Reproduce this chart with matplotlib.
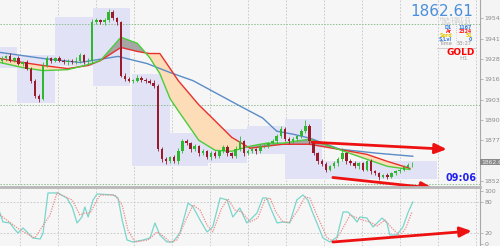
import numpy as np
import matplotlib.pyplot as plt

# H1 candles (close prices), open = previous close
first_open = 1927.5
closes = [1929.1, 1930.4, 1927.8, 1929.1, 1925.9, 1926.6, 1922.8, 1915.2, 1905.7, 1903.9,
          1924.7, 1929.1, 1927.8, 1929.1, 1927.8, 1926.6, 1927.8, 1926.6, 1927.8, 1931.0,
          1926.6, 1927.8, 1951.8, 1953.1, 1951.8, 1953.1, 1958.1, 1954.35, 1951.8, 1918.4,
          1916.5, 1915.2, 1915.2, 1917.1, 1915.9, 1915.2, 1914.0, 1912.1, 1872.3, 1866.0,
          1864.7, 1867.2, 1864.7, 1871.0, 1877.3, 1876.1, 1872.3, 1874.2, 1869.8, 1871.0,
          1867.2, 1869.8, 1867.9, 1871.0, 1873.5, 1869.8, 1867.9, 1872.3, 1877.3, 1869.8,
          1871.0, 1872.3, 1871.0, 1874.2, 1874.2, 1876.1, 1877.3, 1880.5, 1884.9, 1878.6,
          1877.3, 1878.6, 1880.5, 1883.6, 1886.8, 1877.3, 1869.8, 1864.7, 1862.8, 1859.6,
          1861.6, 1863.4, 1866.0, 1869.8, 1864.7, 1863.4, 1861.6, 1863.4, 1859.6, 1864.7,
          1858.4, 1857.1, 1855.2, 1855.9, 1855.2, 1857.1, 1858.4, 1859.6, 1860.9, 1862.2,
          1862.61]
wick_up = [1.5, 1.0, 2.0, 1.2, 1.5, 1.0, 1.5, 1.0, 1.2, 1.0,
           2.0, 1.5, 1.0, 1.2, 1.5, 1.0, 1.2, 1.0, 2.5, 1.5,
           1.0, 1.5, 2.0, 1.5, 1.0, 1.2, 2.0, 1.5, 1.0, 1.0,
           1.5, 1.2, 1.0, 1.5, 1.0, 1.2, 1.0, 1.5, 1.0, 1.5,
           1.2, 1.0, 1.5, 2.0, 1.2, 1.5, 1.0, 1.2, 1.0, 1.5,
           1.0, 1.2, 1.5, 1.0, 1.5, 1.2, 1.0, 2.0, 3.0, 1.0,
           1.2, 1.5, 1.0, 1.2, 1.5, 1.0, 1.5, 1.2, 2.0, 1.0,
           1.2, 1.5, 1.0, 1.5, 4.0, 1.2, 1.0, 1.0, 1.2, 1.5,
           1.0, 1.5, 1.2, 3.0, 1.0, 1.2, 1.5, 1.0, 1.2, 1.0,
           1.5, 1.0, 1.2, 1.0, 1.5, 1.0, 1.2, 1.0, 1.5, 1.2,
           2.0]
wick_dn = [1.2, 1.5, 1.0, 1.2, 1.0, 1.5, 1.0, 1.5, 1.2, 2.0,
           1.0, 1.2, 1.5, 1.0, 1.2, 1.0, 1.5, 1.2, 1.0, 1.5,
           1.2, 1.0, 1.5, 1.0, 1.2, 1.5, 1.0, 1.2, 1.5, 1.0,
           1.5, 1.0, 1.2, 1.0, 1.5, 1.2, 1.0, 1.5, 1.2, 2.0,
           1.5, 1.2, 1.0, 1.5, 1.0, 1.2, 1.5, 1.0, 1.5, 1.2,
           1.0, 1.5, 1.2, 1.0, 1.2, 1.5, 1.0, 1.2, 1.0, 1.5,
           1.2, 1.0, 1.5, 1.2, 1.0, 1.2, 1.0, 1.5, 1.0, 1.2,
           1.5, 1.0, 1.2, 1.0, 1.2, 1.5, 1.2, 1.5, 1.0, 1.5,
           1.2, 1.0, 1.5, 1.2, 1.5, 1.0, 1.2, 1.5, 1.0, 1.2,
           1.5, 1.2, 2.0, 1.0, 1.5, 1.2, 1.0, 1.2, 1.0, 1.2,
           1.0]

# moving averages (read at bar positions)
ma_x = [-0.5, 5, 10, 16, 21, 24, 29, 33, 36, 38.5, 41, 43, 48, 52, 56, 60.5, 64.5, 68.5, 75, 82, 89, 94, 99.5]
ma_red = [1929.1, 1926.6, 1924.7, 1922.8, 1924.7, 1927.8, 1936.0, 1933.5, 1932.2, 1932.2, 1922.8, 1915.2,
          1900.1, 1890.0, 1879.8, 1872.9, 1874.2, 1875.4, 1875.4, 1872.3, 1869.1, 1864.7, 1860.3]
ma_green = [1926.6, 1923.4, 1921.5, 1922.1, 1925.3, 1927.8, 1942.4, 1938.6, 1929.7, 1919.6, 1903.9, 1896.3,
            1877.9, 1871.6, 1871.0, 1874.2, 1876.1, 1876.1, 1878.6, 1872.3, 1866.0, 1861.6, 1859.6]
blue_x = [-0.5, 10, 19, 28.3, 35.4, 41, 46.6, 58, 63.6, 67, 71, 75.1, 82.4, 91.5, 100.2]
ma_blue = [1932.9, 1929.1, 1926.6, 1930.4, 1925.9, 1920.3, 1915.2, 1899.4, 1891.8, 1883.6, 1881.7,
           1879.2, 1872.3, 1869.8, 1867.9]

# session boxes
box_x0 = [-0.5, 3.6, 12.9, 22.2, 31.7, 41.0, 50.2, 59.7, 69.0, 78.0]
box_x1 = [3.6, 12.9, 22.2, 31.2, 41.0, 50.2, 59.7, 69.0, 78.0, 106.1]
box_hi = [1936.0, 1931.0, 1955.0, 1960.7, 1919.6, 1882.4, 1884.9, 1886.8, 1891.2, 1864.7]
box_lo = [1923.4, 1901.3, 1924.7, 1912.1, 1861.6, 1861.6, 1863.4, 1869.1, 1853.4, 1853.4]

levels = [1950.56, 1900.06, 1850.4]
price_ticks = [1954.35, 1941.60, 1928.85, 1916.10, 1903.35, 1890.60, 1877.85, 1865.10, 1852.35]

# stochastic
k_x = [-0.5, 0.2, 1.9, 3.2, 3.9, 5.1, 6.1, 7.5, 9.3, 10, 11.2, 12.4, 13.6, 15.8, 17.1, 18.3, 19.5, 20.2,
       21, 22.2, 23.2, 27.1, 28.3, 29.3, 30.5, 31.9, 34.4, 36.1, 37.3, 38.5, 40.2, 41.7, 43.4, 45.4, 46.6,
       48.3, 50, 51.4, 53.2, 54.9, 56.3, 58, 59.7, 60.5, 62.2, 63.6, 64.6, 65.4, 67.1, 68.5, 70.2, 71.9,
       73.4, 74.6, 75.8, 78.3, 80, 81.7, 83.2, 84.4, 85.6, 86.6, 87.3, 89, 90.5, 91.5, 92.7, 93.9, 94.6,
       96.3, 97.8, 99, 100.2]
k_val = [58.6, 41.6, 39.7, 26.4, 20.7, 30.2, 22.6, 11.2, 9.3, 20.7, 96.6, 96.6, 96.6, 87.1, 70.0, 39.7,
         51.0, 70.0, 51.0, 83.3, 94.7, 92.8, 87.1, 45.4, 7.4, 3.6, 7.4, 11.2, 39.7, 16.9, 3.6, 3.6, 20.7,
         77.6, 70.0, 45.4, 22.6, 32.1, 87.1, 83.3, 51.0, 68.1, 39.7, 45.4, 58.6, 87.1, 87.1, 70.0, 39.7,
         41.6, 39.7, 83.3, 92.8, 83.3, 58.6, 11.2, 3.6, 13.0, 60.5, 60.5, 51.0, 41.6, 51.0, 49.1, 32.1,
         39.7, 49.1, 39.7, 16.9, 16.9, 32.1, 58.6, 79.5]
d_x = [-0.5, 4.4, 8, 11.7, 13.4, 17.1, 19, 20.2, 21.5, 23.2, 23.9, 27.5, 29.3, 30.7, 32.4, 35.6, 37.8,
       39.3, 41, 42.7, 44.6, 46.6, 48.3, 50, 51.4, 53.6, 55.1, 56.8, 58.5, 60.5, 62.4, 64.1, 65.4, 66.8,
       68.5, 70.2, 72.2, 73.9, 75.1, 76.8, 79.3, 81.2, 82.9, 84.9, 86.6, 87.8, 89.7, 91.5, 93.4, 95.1,
       97.1, 98.5, 100]
d_val = [54.8, 26.4, 11.2, 54.8, 96.6, 83.3, 54.8, 58.6, 58.6, 83.3, 92.8, 92.8, 73.8, 26.4, 3.6, 7.4,
         22.6, 15.0, 3.6, 7.4, 41.6, 73.8, 64.3, 35.9, 22.6, 68.1, 85.2, 64.3, 60.5, 41.6, 49.1, 83.3,
         87.1, 60.5, 41.6, 41.6, 64.3, 89.0, 87.1, 54.8, 11.2, 3.6, 26.4, 54.8, 49.1, 45.4, 41.6, 34.0,
         45.4, 30.2, 15.0, 30.2, 60.5]

W, H = 500, 246
fig = plt.figure(figsize=(5, 2.46), dpi=100)
fig.patch.set_facecolor("#f4f4f4")


def px(x, y):
    return x / W, 1 - y / H


ax = fig.add_axes([0, 1 - 185 / H, 480 / W, 185 / H])
sub = fig.add_axes([0, 0, 480 / W, 58 / H])
xlim = (-0.5, 116.6)
grid_x = np.arange(4.4, 117, 9.27)

for a in (ax, sub):
    a.set_facecolor("#f6f6f6")
    a.set_xlim(*xlim)
    a.set_xticks([])
    for s in ("top", "left", "bottom"):
        a.spines[s].set_visible(False)
    a.spines["right"].set_color("#a8a8a8")
    a.spines["right"].set_linewidth(0.8)
    a.yaxis.tick_right()
    a.tick_params(axis="y", length=2, width=0.5, color="#a0a0a0", labelsize=4.5,
                  labelcolor="#8a8a8a", pad=1.2)
    for gx in grid_x:
        a.axvline(gx, color="#c4c4c4", lw=0.6, ls=(0, (2, 2)), zorder=0)

ax.set_ylim(1849.9, 1965.71)
ax.set_yticks(price_ticks)
ax.set_yticklabels([f"{p:.2f}" for p in price_ticks])

for x0, x1, hi, lo in zip(box_x0, box_x1, box_hi, box_lo):
    ax.add_patch(plt.Rectangle((x0, lo), x1 - x0, hi - lo, facecolor="#e2e2f6",
                               edgecolor="none", zorder=1))

for lv in levels:
    ax.axhline(lv, color="#8fbf8f", lw=0.7, ls=(0, (1.5, 1.5)), zorder=1)

# MA fills and lines
red = np.array(ma_red)
green = np.array(ma_green)
ax.fill_between(ma_x, red, green, where=green <= red, interpolate=True,
                color="#fddcb8", lw=0, zorder=2)
ax.fill_between(ma_x, red, green, where=green > red, interpolate=True,
                color="#a6a6a6", lw=0, zorder=2)
ax.plot(blue_x, ma_blue, color="#5a8cc6", lw=1.0, zorder=3)
ax.plot(ma_x, ma_red, color="#e8302c", lw=1.0, zorder=3)
ax.plot(ma_x, ma_green, color="#4ccc3c", lw=1.0, zorder=3)

# candles
opens = [first_open] + closes[:-1]
idx = np.arange(len(closes))
for i, o, c, wu, wd in zip(idx, opens, closes, wick_up, wick_dn):
    col = "#2fb82f" if c >= o else "#9a1c2c"
    ax.vlines(i, min(o, c) - wd, max(o, c) + wu, color=col, lw=0.6, zorder=4)
    ax.bar(i, max(abs(c - o), 0.4), bottom=min(o, c), width=0.6, color=col, lw=0, zorder=4)

# red trend arrows
arrow = dict(arrowstyle="-|>,head_length=0.7,head_width=0.3", color="#ee1111", lw=2.0,
             shrinkA=0, shrinkB=0)
ax.annotate("", xy=(108.5, 1872.3), xytext=(75.6, 1876.7), arrowprops=arrow,
            annotation_clip=False, zorder=6)
ax.annotate("", xy=(105.2, 1847.9), xytext=(80.7, 1854.6), arrowprops=arrow,
            annotation_clip=False, zorder=6)

# stochastic panel
sub.set_ylim(-4, 106)
sub.set_yticks([0, 20, 80, 100])
for lv in (20, 80):
    sub.axhline(lv, color="#c4c4c4", lw=0.6, ls=(0, (2, 2)), zorder=0)
sub.plot(k_x, k_val, color="#78d6cc", lw=0.9, zorder=3)
sub.plot(d_x, d_val, color="#f08a8a", lw=0.9, ls=(0, (1, 1)), zorder=3)
sub.annotate("", xy=(114.6, 24.5), xytext=(80.7, 3.6), arrowprops=arrow,
             annotation_clip=False, zorder=6)

# separator between panels
fig.add_artist(plt.Line2D([0, 480 / W], [1 - 187 / H] * 2, color="#b8b8b8", lw=2.0))

# current price tag
fig.add_artist(plt.Rectangle(px(480, 165), 20 / W, 6 / H, facecolor="#8a8a8a", edgecolor="none"))
fig.text(*px(481, 162), "1862.61", color="#eeeeee", fontsize=4.3, va="center", ha="left")

# info block top right
fig.text(*px(473, 11), "1862.61", color="#4a8fdc", fontsize=11, ha="right", va="center")
fig.text(*px(471, 19.5), "High:1867.25", color="#c4c4c4", fontsize=3.3, ha="right", va="center")
fig.text(*px(471, 23.5), "Low:1858.43", color="#c4c4c4", fontsize=3.3, ha="right", va="center")
rows = [("D1", "1167", "#3a7de0", 27.5), ("Ar", "2324", "#ff2020", 31.5),
        ("Sprd", "51", "#e6c800", 35.5), ("S.Lvl", "0", "#3a7de0", 39.5),
        ("Time", "53:27", "#b8b8b8", 43.5)]
for lab, val, col, y in rows:
    fig.text(*px(452, y), lab, color=col, fontsize=3.4, ha="right", va="center", weight="bold")
    fig.text(*px(456, y), ":", color=col, fontsize=3.4, ha="center", va="center")
    fig.text(*px(472, y), val, color=col, fontsize=3.4, ha="right", va="center", weight="bold")
fig.add_artist(plt.Line2D([437 / W, 476 / W], [1 - 47.5 / H] * 2, color="#c8c8c8", lw=0.6))
fig.text(*px(461, 52.5), "GOLD", color="#ff0000", fontsize=6.5, weight="bold", ha="center", va="center")
fig.text(*px(464, 58), "H1", color="#a8a8a8", fontsize=4.5, ha="center", va="center")

fig.text(*px(477, 178), "09:06", color="#2222ee", fontsize=7, weight="bold", ha="right", va="center")

fig.savefig("out.png", dpi=100, facecolor=fig.get_facecolor())
